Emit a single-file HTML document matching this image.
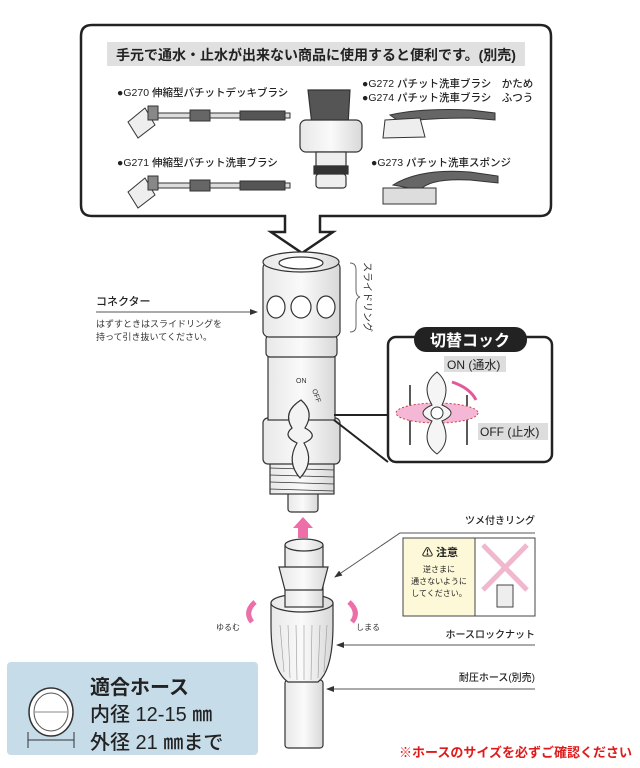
<!DOCTYPE html>
<html><head><meta charset="utf-8"><style>
html,body{margin:0;padding:0;background:#fff;}
svg{display:block;font-family:"Liberation Sans","Noto Sans CJK JP",sans-serif;}
</style></head><body>
<svg width="640" height="768" viewBox="0 0 640 768" xmlns="http://www.w3.org/2000/svg">
<defs>
<linearGradient id="g" x1="0" x2="1"><stop offset="0" stop-color="#e8e8e8"/><stop offset=".5" stop-color="#fafafa"/><stop offset="1" stop-color="#d8d8d8"/></linearGradient>
<marker id="ar" markerWidth="8" markerHeight="6" refX="7" refY="3" orient="auto"><path d="M0,0 L8,3 L0,6z" fill="#333"/></marker>
</defs>
<!-- top box -->
<path d="M92,25 H540 Q551,25 551,36 V205 Q551,216 540,216 H320 V232 H333 L302,253 L271,232 H285 V216 H92 Q81,216 81,205 V36 Q81,25 92,25Z" fill="#fff" stroke="#222" stroke-width="2.5"/>
<rect x="107" y="42" width="418" height="24" fill="#e0e0e0"/>
<text x="316" y="60" font-size="14" font-weight="bold" text-anchor="middle" fill="#222">手元で通水・止水が出来ない商品に使用すると便利です。(別売)</text>
<g font-size="10.5" fill="#222" font-weight="500">
<text x="117" y="96">●G270 伸縮型パチットデッキブラシ</text>
<text x="117" y="166">●G271 伸縮型パチット洗車ブラシ</text>
<text x="362" y="87">●G272 パチット洗車ブラシ　かため</text>
<text x="362" y="101">●G274 パチット洗車ブラシ　ふつう</text>
<text x="371" y="166">●G273 パチット洗車スポンジ</text>
</g>
<!-- brushes -->
<g stroke="#333" stroke-width="1">
<rect x="150" y="113" width="140" height="5" fill="#ddd"/><rect x="190" y="110" width="20" height="11" fill="#666"/><rect x="240" y="111" width="45" height="9" fill="#555"/>
<path d="M128,122 L145,108 L155,125 L138,138Z" fill="#eee"/><rect x="148" y="106" width="10" height="14" fill="#888"/>
<rect x="150" y="183" width="140" height="5" fill="#ddd"/><rect x="190" y="180" width="20" height="11" fill="#666"/><rect x="240" y="181" width="45" height="9" fill="#555"/>
<path d="M128,192 L145,178 L155,195 L138,208Z" fill="#eee"/><rect x="148" y="176" width="10" height="14" fill="#888"/>
<path d="M390,115 Q420,108 470,110 L495,113 L495,120 L470,118 Q430,118 400,122Z" fill="#666"/>
<path d="M385,120 L420,118 L425,137 L383,138Z" fill="#eee"/>
<path d="M393,185 Q420,168 470,172 L498,176 L498,183 L470,180 Q430,178 420,190Z" fill="#666"/>
<rect x="383" y="188" width="53" height="16" fill="#ddd"/>
</g>
<!-- faucet adapter -->
<g stroke="#333" stroke-width="1.2">
<path d="M308,90 H350 L348,125 H312Z" fill="#555"/>
<rect x="300" y="120" width="62" height="32" rx="6" fill="url(#g)"/>
<rect x="316" y="152" width="30" height="14" fill="#eee"/>
<rect x="314" y="166" width="34" height="8" fill="#333"/>
<rect x="316" y="174" width="30" height="14" rx="3" fill="#eee"/>
</g>
<!-- connector -->
<g stroke="#333" stroke-width="1.2" fill="url(#g)">
<rect x="288" y="492" width="30" height="20" rx="3"/>
<rect x="270" y="462" width="64" height="32"/>
<g stroke-width=".7"><line x1="270" y1="468" x2="334" y2="470"/><line x1="270" y1="475" x2="334" y2="477"/><line x1="270" y1="482" x2="334" y2="484"/><line x1="270" y1="489" x2="334" y2="491"/></g>
<rect x="263" y="418" width="77" height="46" rx="5"/>
<rect x="268" y="355" width="67" height="65"/>
<rect x="266" y="335" width="71" height="22" rx="4"/>
<rect x="263" y="262" width="77" height="75" rx="6"/>
<ellipse cx="301" cy="262" rx="38" ry="10"/>
<ellipse cx="301" cy="263" rx="22" ry="6" fill="#fff"/>
<ellipse cx="276" cy="307" rx="9" ry="11" fill="#fff"/><ellipse cx="301" cy="307" rx="10" ry="11" fill="#fff"/><ellipse cx="326" cy="307" rx="9" ry="11" fill="#fff"/>
<path d="M292,428 Q282,412 301,400 Q315,412 305,428 Q320,436 304,443 Q315,462 300,478 Q286,462 297,443 Q282,436 292,428Z" fill="#f3f3f3"/>
</g>
<text x="296" y="383" font-size="7" fill="#333">ON</text><text x="312" y="390" font-size="7" fill="#333" transform="rotate(70 312 390)">OFF</text>
<!-- slide ring bracket -->
<path d="M350,263 Q356,263 356,270 V290 Q356,296 360,297 Q356,298 356,304 V326 Q356,332 350,332" fill="none" stroke="#666"/>
<text font-size="10" fill="#333" transform="translate(364,262) rotate(90)">スライドリング</text>
<!-- konekuta -->
<text x="96" y="305" font-size="11" fill="#222" font-weight="500">コネクター</text>
<line x1="96" y1="312" x2="257" y2="312" stroke="#555" marker-end="url(#ar)"/>
<text x="96" y="327" font-size="9" fill="#333">はずすときはスライドリングを</text>
<text x="96" y="340" font-size="9" fill="#333">持って引き抜いてください。</text>
<!-- cock box -->
<path d="M334,415 L388,415 M334,420 L388,462" stroke="#222" stroke-width="2" fill="none"/>
<rect x="388" y="337" width="164" height="125" rx="8" fill="#fff" stroke="#222" stroke-width="2.5"/>
<rect x="414" y="327" width="113" height="25" rx="12" fill="#222"/>
<text x="470" y="346" font-size="16" fill="#fff" text-anchor="middle" font-weight="bold">切替コック</text>
<rect x="444" y="356" width="62" height="16" fill="#ddd"/>
<text x="447" y="369" font-size="12" fill="#222">ON (通水)</text>
<rect x="478" y="423" width="70" height="17" fill="#ddd"/>
<text x="480" y="436" font-size="12" fill="#222">OFF (止水)</text>
<line x1="410" y1="385" x2="410" y2="445" stroke="#222" stroke-width="1.5"/>
<line x1="467" y1="395" x2="467" y2="445" stroke="#222" stroke-width="1.5"/>
<ellipse cx="437" cy="413" rx="41" ry="10" fill="#f4b8d6" stroke="#c44" stroke-dasharray="2,2"/>
<path d="M432,405 Q420,385 437,372 Q452,385 442,405 Q460,413 442,421 Q452,442 437,454 Q420,442 432,421 Q414,413 432,405Z" fill="#f5f5f5" stroke="#333"/>
<circle cx="437" cy="413" r="6" fill="#fff" stroke="#333"/>
<path d="M452,382 Q470,388 476,400" fill="none" stroke="#e05a9a" stroke-width="3"/>
<!-- pink up arrow -->
<path d="M303,517 L313,528 H308 V538 H298 V528 H293Z" fill="#ec6fa8"/>
<!-- lower fittings -->
<g stroke="#333" stroke-width="1.2" fill="url(#g)">
<rect x="285" y="680" width="38" height="68" rx="3"/>
<path d="M271,603 H333 V625 Q333,670 318,682 H288 Q271,670 271,625Z"/>
<ellipse cx="302" cy="603" rx="31" ry="9"/>
<rect x="285" y="545" width="38" height="62"/>
<path d="M279,567 H328 L322,590 H285Z"/>
<ellipse cx="304" cy="545" rx="19" ry="6"/>
</g>
<g stroke="#999" stroke-width=".6"><line x1="280" y1="625" x2="284" y2="672"/><line x1="288" y1="625" x2="290" y2="678"/><line x1="296" y1="625" x2="297" y2="680"/><line x1="304" y1="625" x2="304" y2="680"/><line x1="312" y1="625" x2="311" y2="680"/><line x1="320" y1="625" x2="318" y2="678"/><line x1="327" y1="625" x2="324" y2="672"/></g>
<!-- turn arrows -->
<path d="M252,622 Q244,612 255,602" stroke="#ec6fa8" stroke-width="5" fill="none"/>
<path d="M352,622 Q360,612 349,602" stroke="#ec6fa8" stroke-width="5" fill="none"/>
<text x="216" y="630" font-size="8" fill="#333">ゆるむ</text>
<text x="356" y="630" font-size="8" fill="#333">しまる</text>
<!-- labels right -->
<text x="535" y="524" font-size="10" fill="#222" text-anchor="end" font-weight="500">ツメ付きリング</text>
<path d="M535,533 H400 L335,577" stroke="#555" fill="none" marker-end="url(#ar)"/>
<rect x="403" y="538" width="132" height="78" fill="#fdf8d8" stroke="#444"/>
<rect x="475" y="538" width="60" height="78" fill="#fff" stroke="#444"/>
<path d="M483,545 L527,590 M527,545 L483,590" stroke="#f0b8cc" stroke-width="5"/>
<rect x="497" y="585" width="16" height="22" fill="#eee" stroke="#444"/>
<text x="440" y="556" font-size="11" font-weight="bold" text-anchor="middle" fill="#222">⚠ 注意</text>
<text x="439" y="572" font-size="8" text-anchor="middle" fill="#222">逆さまに</text>
<text x="439" y="584" font-size="8" text-anchor="middle" fill="#222">通さないように</text>
<text x="439" y="596" font-size="8" text-anchor="middle" fill="#222">してください。</text>
<text x="535" y="638" font-size="10" fill="#222" text-anchor="end" font-weight="500">ホースロックナット</text>
<line x1="535" y1="645" x2="337" y2="645" stroke="#555" marker-end="url(#ar)"/>
<text x="535" y="681" font-size="10" fill="#222" text-anchor="end" font-weight="500">耐圧ホース(別売)</text>
<line x1="535" y1="689" x2="327" y2="689" stroke="#555" marker-end="url(#ar)"/>
<!-- blue box -->
<rect x="7" y="662" width="251" height="93" rx="4" fill="#c6dce9"/>
<ellipse cx="51" cy="712" rx="22" ry="24" fill="#fff" stroke="#333" stroke-width="1.5"/>
<ellipse cx="51" cy="712" rx="17" ry="19" fill="#fff" stroke="#555"/>
<line x1="35" y1="712" x2="67" y2="712" stroke="#888"/>
<line x1="28" y1="740" x2="74" y2="740" stroke="#333"/>
<line x1="28" y1="732" x2="28" y2="748" stroke="#333"/><line x1="74" y1="732" x2="74" y2="748" stroke="#333"/>
<text x="90" y="694" font-size="20" font-weight="bold" fill="#222">適合ホース</text>
<text x="90" y="721" font-size="20" fill="#222" font-weight="500">内径 12-15 ㎜</text>
<text x="90" y="749" font-size="20" fill="#222" font-weight="500">外径 21 ㎜まで</text>
<text x="632" y="757" font-size="13" fill="#e01a1a" text-anchor="end" font-weight="bold">※ホースのサイズを必ずご確認ください</text>
</svg>
</body></html>
